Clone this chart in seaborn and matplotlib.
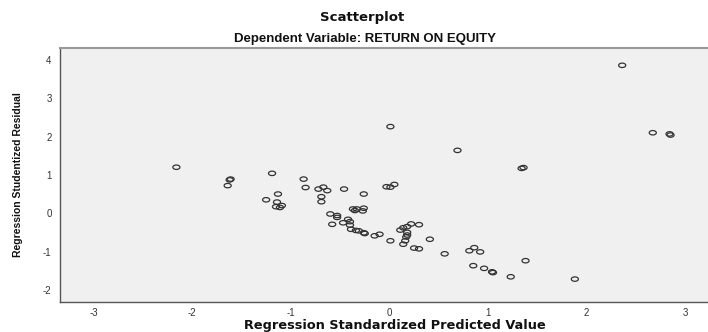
import numpy as np
import pandas as pd
import matplotlib
matplotlib.use("Agg")
import matplotlib.pyplot as plt
from matplotlib.path import Path
import seaborn as sns

predicted = [-2.16, -1.64, -1.62, -1.61, -1.19, -1.25, -1.13, -1.14, -1.15, -1.11,
             -1.09, -0.87, -0.85, -0.72, -0.67, -0.63, -0.69, -0.69, -0.46, -0.26,
             -0.60, -0.53, -0.53, -0.58, -0.37, -0.35, -0.33, -0.27, -0.26, -0.47,
             -0.42, -0.40, -0.40, -0.39, -0.34, -0.31, -0.26, -0.25, -0.15, -0.10,
             0.01, 0.01, -0.03, 0.01, 0.05, 0.11, 0.14, 0.18, 0.22, 0.30,
             0.18, 0.18, 0.17, 0.16, 0.14, 0.25, 0.30, 0.41, 0.56, 0.81,
             0.86, 0.92, 0.85, 0.96, 1.04, 1.05, 1.23, 1.38, 1.88, 0.69,
             1.34, 1.36, 2.67, 2.84, 2.85, 2.36]
residual = [1.20, 0.72, 0.87, 0.89, 1.04, 0.35, 0.50, 0.29, 0.17, 0.15,
            0.20, 0.89, 0.67, 0.63, 0.68, 0.59, 0.43, 0.30, 0.63, 0.50,
            -0.02, -0.06, -0.11, -0.29, 0.11, 0.07, 0.11, 0.06, 0.13, -0.25,
            -0.16, -0.22, -0.31, -0.42, -0.45, -0.46, -0.51, -0.53, -0.59, -0.55,
            -0.72, 2.26, 0.69, 0.68, 0.75, -0.44, -0.38, -0.35, -0.28, -0.30,
            -0.50, -0.57, -0.62, -0.72, -0.81, -0.91, -0.93, -0.68, -1.06, -0.98,
            -0.90, -1.01, -1.37, -1.44, -1.53, -1.55, -1.66, -1.24, -1.72, 1.64,
            1.17, 1.19, 2.10, 2.07, 2.04, 3.86]

x_ticks = [-3, -2, -1, 0, 1, 2, 3]
y_ticks = [-2, -1, 0, 1, 2, 3, 4]

title = "Scatterplot"
subtitle = "Dependent Variable: RETURN ON EQUITY"
x_label = "Regression Standardized Predicted Value"
y_label = "Regression Studentized Residual"

df = pd.DataFrame({"pred": predicted, "resid": residual})

sns.set_style("white")
plt.rcParams["font.family"] = ["Liberation Sans", "DejaVu Sans"]
plt.rcParams["axes.unicode_minus"] = False

fig = plt.figure(figsize=(7.08, 3.32), dpi=100)
ax = fig.add_axes([60 / 708, 1 - 301.7 / 332, 648 / 708, (301.7 - 47.7) / 332])
ax.set_facecolor("#f0f0f0")

t = np.linspace(0, 2 * np.pi, 40)
ellipse = Path(np.column_stack([1.6 * np.cos(t), np.sin(t)]), closed=True)

sns.scatterplot(data=df, x="pred", y="resid", ax=ax, marker=ellipse, s=26,
                facecolor="none", edgecolor="#333333", linewidth=0.9)

ax.set_xlim(-3.34, 3.23)
ax.set_ylim(-2.31, 4.32)
ax.set_xticks(x_ticks)
ax.set_yticks(y_ticks)
ax.tick_params(axis="both", direction="out", length=3, width=0.8, color="#444444",
               labelsize=7, labelcolor="#333333", pad=1.5)
ax.tick_params(axis="y", pad=3)

for side in ["left", "bottom"]:
    ax.spines[side].set_color("#555555")
    ax.spines[side].set_linewidth(1.0)
ax.spines["top"].set_color("#999999")
ax.spines["top"].set_linewidth(1.5)
ax.spines["right"].set_visible(False)

ax.set_xlabel("")
ax.set_ylabel("")
fig.text(395 / 708, 1 - 325.5 / 332, x_label, ha="center", va="center",
         fontsize=9.3, fontweight="bold", color="#111111",
         family=["DejaVu Sans"])
fig.text(18 / 708, 1 - 175 / 332, y_label, ha="center", va="center", rotation=90,
         fontsize=7.5, fontweight="bold", color="#111111")
fig.text(362 / 708, 1 - 18 / 332, title, ha="center", va="center",
         fontsize=9.5, fontweight="bold", color="#111111",
         family=["DejaVu Sans"])
fig.text(365 / 708, 1 - 39 / 332, subtitle, ha="center", va="center",
         fontsize=9.5, fontweight="bold", color="#111111")

fig.savefig("out.png", dpi=100, facecolor="white")
